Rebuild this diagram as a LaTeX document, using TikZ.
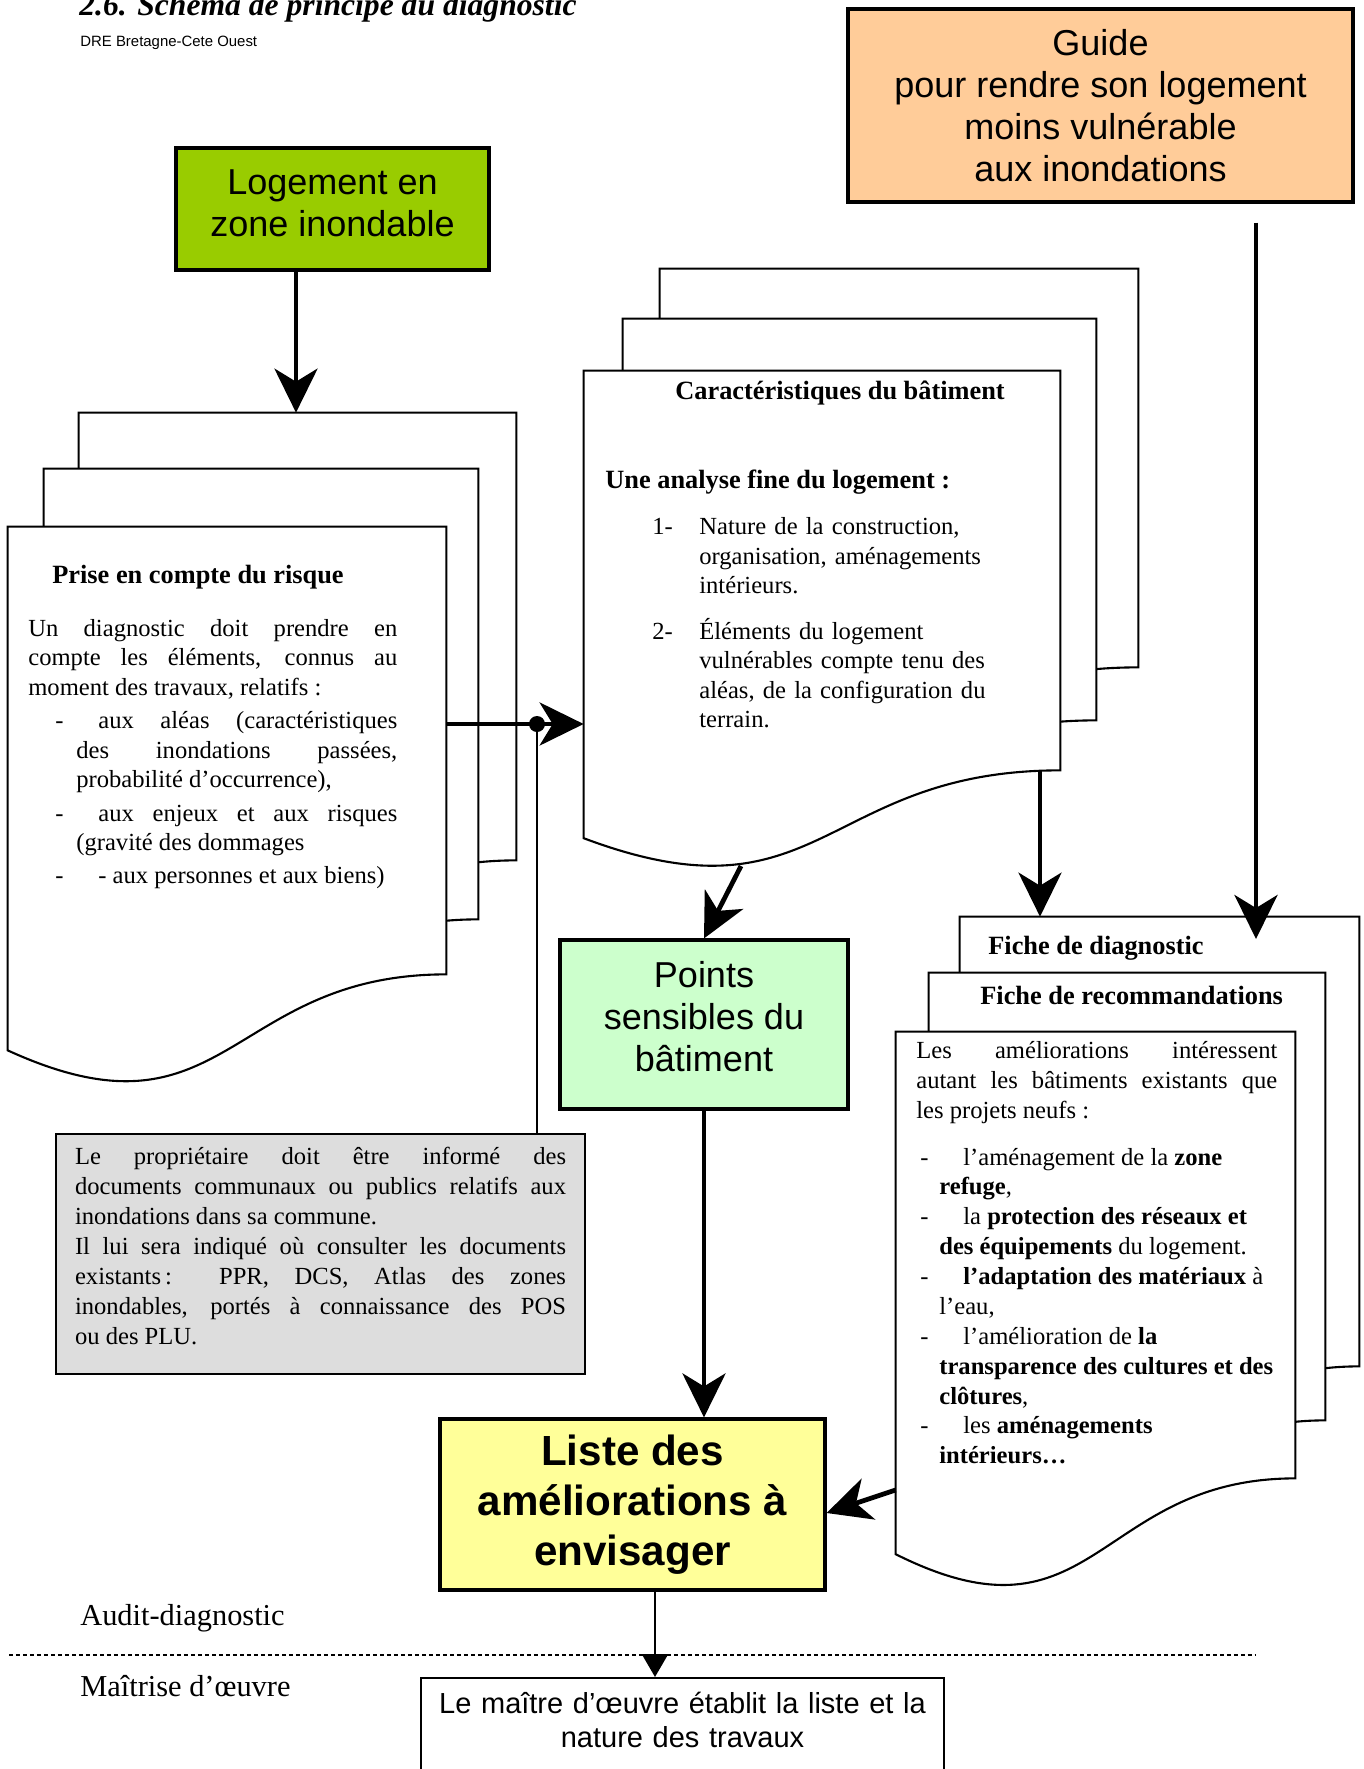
\documentclass[tikz,border=0pt]{standalone}
\usepackage{fontspec}
\setmainfont{Liberation Serif}
\newfontfamily\arialfont{Liberation Sans}
\usetikzlibrary{arrows.meta,positioning,calc,fit}

\newlength{\pxu}
\setlength{\pxu}{0.02cm}

\definecolor{guidecol}{HTML}{FFCC99}
\definecolor{logcol}{HTML}{99CC00}
\definecolor{pointcol}{HTML}{CCFFCC}
\definecolor{listcol}{HTML}{FFFF99}
\definecolor{infocol}{HTML}{DDDDDD}

\tikzset{
  page/.style={draw, fill=white, line width=1.2pt},
  colbox/.style={draw, line width=1.8pt, inner sep=0pt, align=center,
    font=\arialfont\fontsize{20.5}{24}\selectfont},
  boxlabel/.style={inner sep=0pt, align=center, font=\arialfont\fontsize{20.5}{24}\selectfont},
  bigarrow/.style={line width=2.7pt, -{Stealth[length=0.88cm, width=0.86cm, inset=0.26cm]}},
  thinarrow/.style={line width=1.5pt, -{Triangle[length=0.46cm, width=0.52cm]}},
  bodytext/.style={inner sep=0pt, anchor=base west, font=\fontsize{14}{17}\selectfont},
  headtext/.style={inner sep=0pt, anchor=base west, font=\bfseries\fontsize{15}{18}\selectfont},
  lanetext/.style={inner sep=0pt, anchor=base west, font=\fontsize{17.3}{20}\selectfont},
}

% sheet with a wavy lower edge
\newcommand{\docpage}[5]{%
  \node[fit={(#2,#3) (#4,#5)}, inner sep=0pt] (#1) {};
  \pgfmathsetmacro{\pagewave}{0.17*(#5-#3)}
  \draw[page] (#1.north west) -- (#1.north east) -- (#1.south east)
    .. controls (#1.south) and ($(#1.south)+(0,2.32*\pagewave)$) .. ($(#1.south west)+(0,\pagewave)$) -- cycle;
}

\begin{document}
\begin{tikzpicture}[x=0.02cm, y=-0.02cm]
    \useasboundingbox (0,0) rectangle (1364,1769);

    \node[anchor=base west, inner sep=0pt, font=\bfseries\itshape\fontsize{18}{20}\selectfont] (title) at (79,15) {2.6. Schéma de principe du diagnostic};
    \node[anchor=base west, inner sep=0pt, font=\arialfont\fontsize{8.5}{10}\selectfont] (source) at (80,46) {DRE Bretagne-Cete Ouest};

    \node[colbox, fill=guidecol, minimum width=505\pxu, minimum height=193\pxu] (guide) at (1100.5,105.5) {Guide\\pour rendre son logement\\moins vulnérable\\aux inondations};
    \node[colbox, fill=logcol, minimum width=313\pxu, minimum height=122\pxu] (logement) at (332.5,209) {};
    \node[boxlabel] (logementtext) at ($(logement)+(0,-6)$) {Logement en\\zone inondable};

    \docpage{riskC}{79}{413}{516}{860}
    \docpage{riskB}{44}{469}{478}{919}
    \docpage{riskA}{8}{527}{446}{974}

    \node[headtext] (riskhead) at (52,583) {Prise en compte du risque};
    \node[bodytext, font=\fontsize{14}{16.75}\selectfont, text width=369\pxu, align=justify] (risktext) at (28,636.5) {%
      \setlength{\parskip}{4\pxu}%
      Un diagnostic doit prendre en\linebreak compte les éléments, connus au\linebreak moment des travaux, relatifs :\par
      \hangindent=48\pxu\hangafter=1\makebox[70\pxu][l]{\hspace*{27\pxu}-}aux aléas (caractéristiques\linebreak des inondations passées,\linebreak probabilité d’occurrence),\par
      \hangindent=48\pxu\hangafter=1\makebox[70\pxu][l]{\hspace*{27\pxu}-}aux enjeux et aux risques\linebreak (gravité des dommages\par
      \hangindent=48\pxu\hangafter=1\makebox[70\pxu][l]{\hspace*{27\pxu}-}- aux personnes et aux biens)\par};

    \docpage{caractC}{660}{269}{1138}{667}
    \docpage{caractB}{623}{319}{1096}{720}
    \docpage{caractA}{584}{371}{1060}{770}

    \node[headtext] (caracthead) at (675,399) {Caractéristiques du bâtiment};
    \node[headtext] (analysehead) at (605,488) {Une analyse fine du logement :};
    \node[bodytext, font=\fontsize{14}{16.8}\selectfont, text width=360\pxu, align=left] (analysetext) at (652,534.5) {%
      \setlength{\parskip}{16\pxu}%
      \hangindent=47\pxu\hangafter=1\makebox[47\pxu][l]{1-}Nature de la construction,\newline organisation, aménagements\newline intérieurs.\par
      \hangindent=47\pxu\hangafter=1\makebox[47\pxu][l]{2-}Éléments du logement\newline vulnérables compte tenu des\newline aléas, de la configuration du\newline terrain.\par};

    \docpage{diagpage}{960}{917}{1359}{1366}
    \docpage{recopage}{929}{973}{1325}{1420}
    \docpage{amelpage}{896}{1032}{1295}{1478}

    \node[headtext] (diaghead) at (988,954) {Fiche de diagnostic};
    \node[headtext] (recohead) at (980,1004) {Fiche de recommandations};
    \node[bodytext, text width=361\pxu, align=justify] (ameltext) at (916,1058.5) {%
      Les améliorations intéressent\linebreak autant les bâtiments existants que\linebreak les projets neufs :\par
      \vspace{17\pxu}%
      \hangindent=23\pxu\hangafter=1\makebox[47\pxu][l]{\hspace*{4\pxu}-}l’aménagement de la \textbf{zone}\newline \textbf{refuge},\par
      \hangindent=23\pxu\hangafter=1\makebox[47\pxu][l]{\hspace*{4\pxu}-}la \textbf{protection des réseaux et}\newline \textbf{des équipements} du logement.\par
      \hangindent=23\pxu\hangafter=1\makebox[47\pxu][l]{\hspace*{4\pxu}-}\textbf{l’adaptation des matériaux} à\newline l’eau,\par
      \hangindent=23\pxu\hangafter=1\makebox[47\pxu][l]{\hspace*{4\pxu}-}l’amélioration de \textbf{la}\newline \textbf{transparence des cultures et des}\newline \textbf{clôtures},\par
      \hangindent=23\pxu\hangafter=1\makebox[47\pxu][l]{\hspace*{4\pxu}-}les \textbf{aménagements}\newline \textbf{intérieurs…}\par};

    \node[colbox, fill=pointcol, minimum width=288\pxu, minimum height=169\pxu] (points) at (704,1024.5) {};
    \node[boxlabel] (pointstext) at ($(points)+(0,-8)$) {Points\\sensibles du\\bâtiment};
    \node[colbox, fill=listcol, minimum width=385\pxu, minimum height=171\pxu, font=\arialfont\bfseries\fontsize{24}{28.3}\selectfont] (liste) at (632.5,1504.5) {Liste des\\améliorations à\\envisager};

    \node[draw, fill=infocol, line width=1.2pt, anchor=north west, inner xsep=19\pxu, inner ysep=13\pxu, text width=491\pxu, text height=17\pxu, text depth=197\pxu, align=justify, font=\fontsize{14}{17.1}\selectfont] (infobox) at (55,1133) {%
      Le propriétaire doit être informé des\linebreak documents communaux ou publics relatifs aux\linebreak inondations dans sa commune.\par
      Il lui sera indiqué où consulter les documents\linebreak existants\,: PPR, DCS, Atlas des zones\linebreak inondables, portés à connaissance des POS\linebreak ou des PLU.};

    \node[lanetext] (auditlbl) at (80,1625) {Audit-diagnostic};
    \node[lanetext] (moelbl) at (80,1696) {Maîtrise d’œuvre};
    \draw[line width=0.8pt, dash pattern=on 0.09cm off 0.05cm] (9,1655) -- (1256,1655);

    \node[draw, fill=white, line width=1pt, anchor=north, inner xsep=16\pxu, inner ysep=15\pxu, text width=491\pxu, text height=21\pxu, text depth=80\pxu, align=center, font=\arialfont\fontsize{16.5}{19.3}\selectfont] (maitre) at (682.5,1677) {Le maître d’œuvre établit la liste et la\\nature des travaux};

    \coordinate (logx) at (296,0);
    \coordinate (junc) at (537,724);
    \coordinate (caractfoot) at (741,866);
    \coordinate (diagx) at (1040,0);
    \coordinate (guidex) at (1256,0);
    \coordinate (guidetip) at (1256,939);
    \coordinate (amelout) at (896,1490);
    \coordinate (listein) at (825,1513);
    \coordinate (auditx) at (655,0);

    \draw[bigarrow] (logement.south -| logx) -- (riskC.north -| logx);
    \draw[bigarrow] (riskA.east |- junc) -- (caractA.west |- junc);
    \fill (junc) circle[radius=0.16cm];
    \draw[line width=0.9pt] (junc) -- (infobox.north -| junc);
    \draw[bigarrow] (caractfoot) -- (points.north);
    \draw[bigarrow] (caractA.south -| diagx) -- (diagpage.north -| diagx);
    \draw[bigarrow, shorten <=19\pxu] (guide.south -| guidex) -- (guidetip);
    \draw[bigarrow] (points.south) -- (liste.north -| points.south);
    \draw[bigarrow] (amelpage.west |- amelout) -- (liste.east |- listein);
    \draw[thinarrow] (liste.south -| auditx) -- (maitre.north -| auditx);
\end{tikzpicture}
\end{document}
